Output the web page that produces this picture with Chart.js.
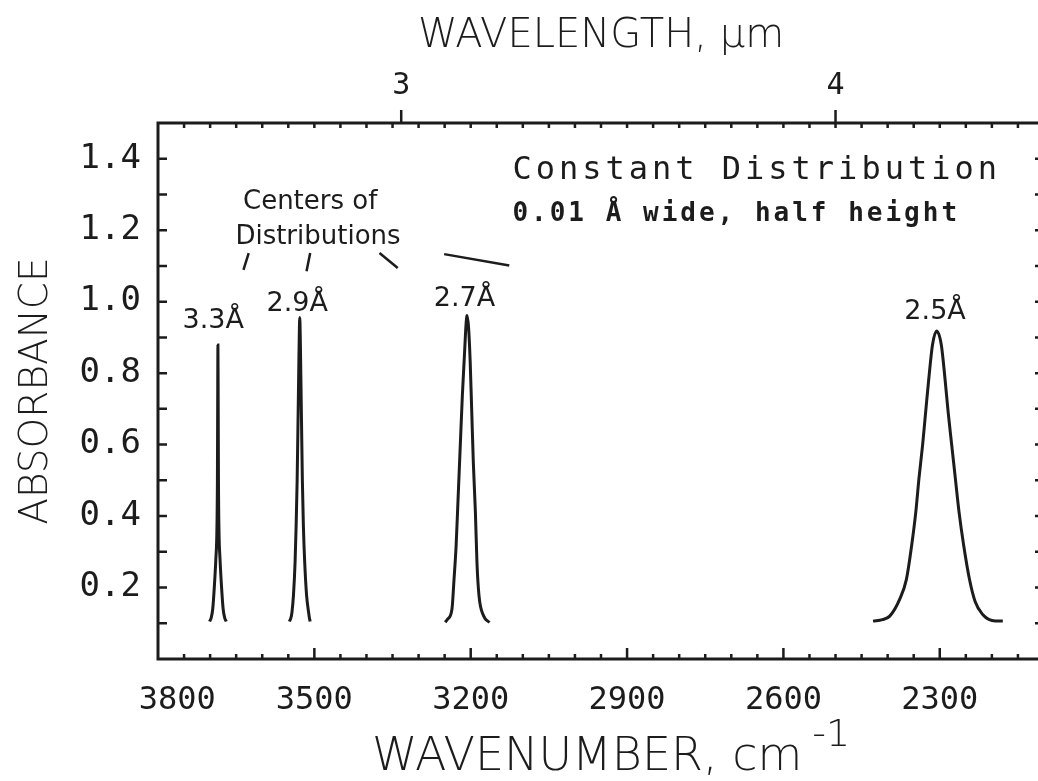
<!DOCTYPE html>
<html>
<head>
<meta charset="utf-8">
<script src="https://cdn.jsdelivr.net/npm/chart.js@4.4.0/dist/chart.umd.min.js"></script>
<style>
  html, body { margin: 0; padding: 0; background: #fff; overflow: hidden; }
  canvas { display: block; }
</style>
</head>
<body>
<canvas id="spectrum" width="1060" height="781"></canvas>
<script>
// axis ticks
const wavenumberTicks = [3800, 3500, 3200, 2900, 2600, 2300];
const wavelengthTicks = [3, 4];
const absorbanceTicks = [0.2, 0.4, 0.6, 0.8, 1.0, 1.2, 1.4];

// band profiles: wavenumber (cm-1) and absorbance
const peak33Wn  = [3701, 3698, 3695, 3692, 3689, 3687, 3686, 3685.5, 3685, 3684.5, 3684, 3683, 3681, 3678, 3675, 3672, 3669];
const peak33Abs = [0.105, 0.115, 0.14, 0.2, 0.28, 0.36, 0.5, 0.7, 0.879, 0.7, 0.5, 0.36, 0.28, 0.2, 0.14, 0.115, 0.105];

const peak29Wn  = [3548, 3545, 3543, 3540, 3537, 3535, 3533, 3531.5, 3530, 3529, 3528, 3527, 3526, 3524.5, 3523, 3521, 3518.5, 3515, 3511, 3509.5, 3508];
const peak29Abs = [0.105, 0.115, 0.13, 0.18, 0.27, 0.37, 0.5, 0.65, 0.8, 0.9, 0.956, 0.9, 0.8, 0.65, 0.5, 0.37, 0.27, 0.18, 0.13, 0.115, 0.105];

const peak27Wn  = [3249, 3244, 3236, 3232, 3228, 3224, 3220, 3216, 3212, 3209, 3207, 3204, 3201, 3198, 3195, 3191, 3188, 3184, 3175, 3164];
const peak27Abs = [0.103, 0.112, 0.139, 0.223, 0.317, 0.457, 0.598, 0.738, 0.851, 0.935, 0.961, 0.926, 0.832, 0.692, 0.551, 0.411, 0.27, 0.176, 0.12, 0.102];

const peak25Wn  = [2428, 2410, 2396, 2377, 2364, 2354, 2346, 2340, 2333, 2327, 2321, 2314, 2306, 2297, 2290, 2284, 2277, 2270, 2263, 2254, 2243, 2232, 2218, 2200, 2179];
const peak25Abs = [0.106, 0.11, 0.12, 0.167, 0.223, 0.317, 0.411, 0.504, 0.598, 0.692, 0.785, 0.879, 0.918, 0.879, 0.785, 0.692, 0.598, 0.504, 0.411, 0.317, 0.223, 0.16, 0.125, 0.108, 0.106];

// O...O distance labels and where they sit (wavenumber, absorbance of baseline)
const peakNames  = ['3.3Å', '2.9Å', '2.7Å', '2.5Å'];
const peakNameWn = [3694, 3533, 3212, 2309];
const peakNameAb = [0.926, 0.973, 0.987, 0.951];

const ink = '#1c1c1c';

function points(xs, ys) {
  return xs.map((x, i) => ({ x: x, y: ys[i] }));
}

function band(xs, ys) {
  return {
    data: points(xs, ys),
    showLine: true,
    borderColor: ink,
    borderWidth: 3,
    pointRadius: 0,
    cubicInterpolationMode: 'monotone',
    fill: false
  };
}

// frame, inward tick marks, notes
const decorations = {
  id: 'decorations',
  afterDraw(chart) {
    const { ctx, chartArea: a, scales } = chart;
    const x = scales.x, y = scales.y, top = scales.xTop;
    ctx.save();
    ctx.strokeStyle = ink;
    ctx.fillStyle = ink;
    ctx.lineWidth = 3;
    ctx.lineCap = 'butt';
    ctx.strokeRect(a.left, a.top, a.right - a.left, a.bottom - a.top);

    ctx.lineWidth = 2.5;
    ctx.beginPath();
    // absorbance ticks on both sides, every 0.1
    for (let k = 1; k < 15; k++) {
      const py = y.getPixelForValue(k / 10);
      ctx.moveTo(a.left, py); ctx.lineTo(a.left + 9, py);
      ctx.moveTo(a.right, py); ctx.lineTo(a.right - 9, py);
    }
    // wavenumber ticks top and bottom, every 50
    for (let w = 3750; w > 2100; w -= 50) {
      const px = x.getPixelForValue(w);
      const major = (3800 - w) % 300 === 0;
      ctx.moveTo(px, a.bottom); ctx.lineTo(px, a.bottom - (major ? 11 : 5));
      ctx.moveTo(px, a.top); ctx.lineTo(px, a.top + 5);
    }
    // wavelength ticks outside the top edge
    wavelengthTicks.forEach(um => {
      const px = top.getPixelForValue(10000 / um);
      ctx.moveTo(px, a.top); ctx.lineTo(px, a.top - 13);
    });
    ctx.stroke();

    // bottom axis title with raised exponent
    ctx.textBaseline = 'alphabetic';
    ctx.textAlign = 'left';
    ctx.font = '200 46px "DejaVu Sans"';
    const label = 'WAVENUMBER, cm';
    const lx = a.left + 214;
    ctx.fillText(label, lx, 770);
    const lw = ctx.measureText(label).width;
    ctx.font = '200 38px "DejaVu Sans"';
    ctx.fillText('-1', lx + lw + 10, 746);

    // distance labels over each band
    ctx.textAlign = 'center';
    ctx.font = '27px "DejaVu Sans"';
    peakNames.forEach((t, i) => {
      ctx.fillText(t, x.getPixelForValue(peakNameWn[i]), y.getPixelForValue(peakNameAb[i]));
    });

    ctx.font = '26px "DejaVu Sans"';
    ctx.fillText('Centers of', x.getPixelForValue(3508), y.getPixelForValue(1.26));
    ctx.fillText('Distributions', x.getPixelForValue(3493), y.getPixelForValue(1.162));

    // leader strokes from the note toward the bands
    const leaders = [
      [3626, 1.136, 3636, 1.089],
      [3508, 1.136, 3515, 1.085],
      [3375, 1.136, 3340, 1.094],
      [3251, 1.133, 3126, 1.101]
    ];
    ctx.lineWidth = 2.5;
    ctx.beginPath();
    leaders.forEach(l => {
      ctx.moveTo(x.getPixelForValue(l[0]), y.getPixelForValue(l[1]));
      ctx.lineTo(x.getPixelForValue(l[2]), y.getPixelForValue(l[3]));
    });
    ctx.stroke();

    ctx.textAlign = 'left';
    ctx.letterSpacing = '4px';
    ctx.font = '32px "DejaVu Sans Mono"';
    ctx.fillText('Constant Distribution', x.getPixelForValue(3120), y.getPixelForValue(1.343));
    ctx.letterSpacing = '3px';
    ctx.font = 'bold 26px "DejaVu Sans Mono"';
    ctx.fillText('0.01 Å wide, half height', x.getPixelForValue(3120), y.getPixelForValue(1.226));
    ctx.restore();
  }
};

new Chart(document.getElementById('spectrum'), {
  type: 'scatter',
  data: {
    datasets: [
      band(peak33Wn, peak33Abs),
      band(peak29Wn, peak29Abs),
      band(peak27Wn, peak27Abs),
      band(peak25Wn, peak25Abs)
    ]
  },
  options: {
    responsive: false,
    animation: false,
    layout: { padding: { right: 16 } },
    plugins: {
      legend: { display: false },
      tooltip: { enabled: false }
    },
    scales: {
      x: {
        type: 'linear',
        position: 'bottom',
        reverse: true,
        min: 2100,
        max: 3800,
        afterBuildTicks: s => { s.ticks = wavenumberTicks.map(v => ({ value: v })); },
        afterFit: s => { s.height = 122; },
        grid: { display: false, drawTicks: false },
        border: { display: false },
        // corner label sits a little inside the frame
        ticks: { color: ink, font: { family: 'DejaVu Sans Mono', size: 32 }, padding: 22,
                 maxRotation: 0, autoSkip: false,
                 callback: v => (v === 3800 ? '  ' : '') + String(v) }
      },
      xTop: {
        type: 'linear',
        position: 'top',
        reverse: true,
        min: 2100,
        max: 3800,
        afterBuildTicks: s => { s.ticks = wavelengthTicks.map(um => ({ value: 10000 / um })); },
        afterFit: s => { s.height = 123; },
        grid: { display: false, drawTicks: false },
        border: { display: false },
        ticks: { color: ink, font: { family: 'DejaVu Sans Mono', size: 30 }, padding: 19,
                 maxRotation: 0, autoSkip: false, callback: v => String(Math.round(10000 / v)) },
        title: { display: true, text: 'WAVELENGTH, µm', color: ink,
                 font: { family: 'DejaVu Sans', size: 40, weight: '200' }, padding: { top: 13 } }
      },
      y: {
        min: 0,
        max: 1.5,
        afterBuildTicks: s => { s.ticks = absorbanceTicks.map(v => ({ value: v })); },
        afterFit: s => { s.width = 158; },
        grid: { display: false, drawTicks: false },
        border: { display: false },
        ticks: { color: ink, font: { family: 'DejaVu Sans Mono', size: 34 }, padding: 17,
                 callback: v => v.toFixed(1) },
        title: { display: true, text: 'ABSORBANCE', color: ink,
                 font: { family: 'DejaVu Sans', size: 39, weight: '200' }, padding: { top: 13 } }
      }
    }
  },
  plugins: [decorations]
});
</script>
</body>
</html>
